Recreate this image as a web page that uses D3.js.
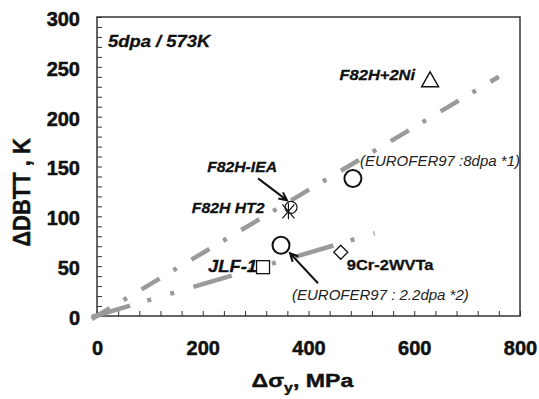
<!DOCTYPE html>
<html>
<head>
<meta charset="utf-8">
<script src="https://cdn.jsdelivr.net/npm/d3@7"></script>
<style>
  body { margin: 0; background: #fff; }
  svg { display: block; font-family: "Liberation Sans", Arial, sans-serif; }
</style>
</head>
<body>
<div id="chart"></div>
<script>
'use strict';

// materials and their measured shifts
const materials = ['F82H+2Ni', 'EUROFER97 8dpa', 'F82H-IEA', 'F82H HT2', 'EUROFER97 2.2dpa', 'JLF-1', '9Cr-2WVTa'];
const dSigmaY = [630, 484, 367, 362, 348, 314, 461];
const dDBTT = [237, 138, 109, 105, 71, 49, 64];

// trend lines (start / end)
const upperTrendX = [-10, 760];
const upperTrendY = [-3, 240];
const lowerTrendX = [-10, 525];
const lowerTrendY = [-1, 83];

const xTickLabels = [0, 200, 400, 600, 800];
const yTickLabels = [0, 50, 100, 150, 200, 250, 300];

const width = 539, height = 399;
const margin = { top: 17, right: 19, bottom: 83, left: 97 };
const innerW = width - margin.left - margin.right;
const innerH = height - margin.top - margin.bottom;

const svg = d3.select('#chart').append('svg')
  .attr('width', width).attr('height', height);

const x = d3.scaleLinear().domain([0, 800]).range([margin.left, margin.left + innerW]);
const y = d3.scaleLinear().domain([0, 300]).range([margin.top + innerH, margin.top]);

// minor ticks, inside
svg.append('g').attr('transform', `translate(0,${margin.top + innerH})`)
  .call(d3.axisBottom(x).tickValues(d3.range(0, 801, 40)).tickSize(-5).tickFormat(''))
  .call(g => g.select('.domain').remove())
  .call(g => g.selectAll('line').attr('stroke', '#333'));

svg.append('g').attr('transform', `translate(${margin.left},0)`)
  .call(d3.axisLeft(y).tickValues(d3.range(0, 301, 10)).tickSize(-5).tickFormat(''))
  .call(g => g.select('.domain').remove())
  .call(g => g.selectAll('line').attr('stroke', '#333'));

// tick labels (heavy lettering)
svg.append('g').attr('transform', `translate(0,${margin.top + innerH})`)
  .call(d3.axisBottom(x).tickValues(xTickLabels).tickSize(0).tickPadding(25))
  .call(g => g.select('.domain').remove())
  .call(g => g.selectAll('text').attr('font-size', 20).attr('font-weight', 'bold')
    .attr('font-family', '"Liberation Sans", Arial, sans-serif').attr('fill', '#111')
    .attr('stroke', '#111').attr('stroke-width', 0.5));

svg.append('g').attr('transform', `translate(${margin.left},0)`)
  .call(d3.axisLeft(y).tickValues(yTickLabels).tickSize(0).tickPadding(17))
  .call(g => g.select('.domain').remove())
  .call(g => g.selectAll('text').attr('font-size', 20).attr('font-weight', 'bold').attr('dy', '0.42em')
    .attr('font-family', '"Liberation Sans", Arial, sans-serif').attr('fill', '#111')
    .attr('stroke', '#111').attr('stroke-width', 0.5));

// frame
svg.append('rect')
  .attr('x', margin.left).attr('y', margin.top)
  .attr('width', innerW).attr('height', innerH)
  .attr('fill', 'none').attr('stroke', '#333').attr('stroke-width', 1.5);

// trend lines
const line = d3.line().x(d => x(d[0])).y(d => y(d[1]));
svg.append('path')
  .datum(d3.zip(upperTrendX, upperTrendY))
  .attr('d', line).attr('fill', 'none')
  .attr('stroke', '#9a9a9a').attr('stroke-width', 4.5)
  .attr('stroke-dasharray', '21,16,4,17');
svg.append('path')
  .datum(d3.zip(lowerTrendX, lowerTrendY))
  .attr('d', line).attr('fill', 'none')
  .attr('stroke', '#9a9a9a').attr('stroke-width', 4.5)
  .attr('stroke-dasharray', '40,18,4,20,4,20');

// helper for the slightly wide lettering in the original
function label(txt, px, py, opts) {
  let o = Object.assign({ size: 15, sx: 1.1, anchor: 'start', bold: true, italic: true, fill: '#111' }, opts);
  return svg.append('text')
    .attr('transform', `translate(${px},${py}) scale(${o.sx},1)`)
    .attr('text-anchor', o.anchor)
    .attr('font-size', o.size)
    .attr('font-weight', o.bold ? 'bold' : 'normal')
    .attr('font-style', o.italic ? 'italic' : 'normal')
    .attr('fill', o.fill)
    .attr('stroke', o.bold ? o.fill : 'none').attr('stroke-width', 0.3)
    .text(txt);
}

// axis titles
let xt = svg.append('text')
  .attr('transform', `translate(${(248 + 357) / 2},387) scale(1.22,1)`)
  .attr('text-anchor', 'middle').attr('font-size', 19).attr('font-weight', 'bold').attr('fill', '#111')
  .attr('stroke', '#111').attr('stroke-width', 0.4);
xt.append('tspan').text('\u0394\u03c3');
xt.append('tspan').attr('font-size', 13).attr('dy', 5).text('y');
xt.append('tspan').attr('dy', -5).text(', MPa');

svg.append('text')
  .attr('transform', `translate(30,${margin.top + innerH / 2 + 26}) scale(1.1,1) rotate(-90)`)
  .attr('text-anchor', 'middle').attr('font-size', 22).attr('font-weight', 'bold').attr('fill', '#111')
  .attr('stroke', '#111').attr('stroke-width', 0.4)
  .text('\u0394DBTT , K');

label('5dpa / 573K', margin.left + 11, margin.top + 30, { size: 16, sx: 1.15 });

// markers
const pts = materials.map((m, i) => ({ name: m, px: x(dSigmaY[i]), py: y(dDBTT[i]) }));
const byName = {};
pts.forEach(p => { byName[p.name] = p; });

const mk = svg.append('g').attr('fill', 'none').attr('stroke', '#111');

let p = byName['F82H+2Ni'];
mk.append('path').attr('d', `M${p.px},${p.py - 8}L${p.px + 8.5},${p.py + 7}L${p.px - 8.5},${p.py + 7}Z`)
  .attr('stroke-width', 1.4).attr('fill', '#fff');

p = byName['EUROFER97 8dpa'];
mk.append('circle').attr('cx', p.px).attr('cy', p.py).attr('r', 8.5).attr('stroke-width', 2);

p = byName['EUROFER97 2.2dpa'];
mk.append('circle').attr('cx', p.px).attr('cy', p.py).attr('r', 8.5).attr('stroke-width', 2);

p = byName['F82H-IEA'];
mk.append('circle').attr('cx', p.px).attr('cy', p.py).attr('r', 6).attr('stroke-width', 1.2);

p = byName['F82H HT2'];
mk.append('path')
  .attr('d', `M${p.px - 6},${p.py - 7}L${p.px + 6},${p.py + 7}M${p.px + 6},${p.py - 7}L${p.px - 6},${p.py + 7}M${p.px},${p.py - 8}L${p.px},${p.py + 8}`)
  .attr('stroke-width', 1.2);

p = byName['JLF-1'];
mk.append('rect').attr('x', p.px - 6.5).attr('y', p.py - 6.5).attr('width', 13).attr('height', 13)
  .attr('stroke-width', 1.3).attr('fill', '#fff');

p = byName['9Cr-2WVTa'];
mk.append('path').attr('d', `M${p.px},${p.py - 7}L${p.px + 7},${p.py}L${p.px},${p.py + 7}L${p.px - 7},${p.py}Z`)
  .attr('stroke-width', 1.3).attr('fill', '#fff');

// labels next to markers
p = byName['F82H+2Ni'];
label('F82H+2Ni', p.px - 15, p.py, { anchor: 'end' });
p = byName['EUROFER97 8dpa'];
label('(EUROFER97 :8dpa *1)', p.px + 7, p.py - 12, { bold: false, sx: 1.0, fill: '#222' });
p = byName['F82H-IEA'];
label('F82H-IEA', p.px - 14, p.py - 35, { anchor: 'end', sx: 1.05 });
p = byName['F82H HT2'];
label('F82H HT2', p.px - 24, p.py + 2, { anchor: 'end', sx: 1.05 });
p = byName['JLF-1'];
label('JLF-1', p.px - 6, p.py + 5, { anchor: 'end', size: 16, sx: 1.15 });
p = byName['9Cr-2WVTa'];
label('9Cr-2WVTa', p.px + 6, p.py + 18, { italic: false, sx: 1.1 });
p = byName['EUROFER97 2.2dpa'];
label('(EUROFER97 : 2.2dpa *2)', p.px + 11, p.py + 55, { bold: false, sx: 1.0, fill: '#222' });

// arrows
function arrow(p, tail, tip) {
  let x1 = p.px + tail[0], y1 = p.py + tail[1], x2 = p.px + tip[0], y2 = p.py + tip[1];
  let a = Math.atan2(y2 - y1, x2 - x1), h = 9, w = 0.45;
  svg.append('path')
    .attr('d', `M${x1},${y1}L${x2},${y2}` +
      `M${x2 - h * Math.cos(a - w)},${y2 - h * Math.sin(a - w)}L${x2},${y2}` +
      `L${x2 - h * Math.cos(a + w)},${y2 - h * Math.sin(a + w)}`)
    .attr('fill', 'none').attr('stroke', '#111').attr('stroke-width', 2);
}
arrow(byName['F82H-IEA'], [-33, -29], [-4, -7]);
arrow(byName['EUROFER97 2.2dpa'], [37, 38], [9, 8]);
</script>
</body>
</html>
